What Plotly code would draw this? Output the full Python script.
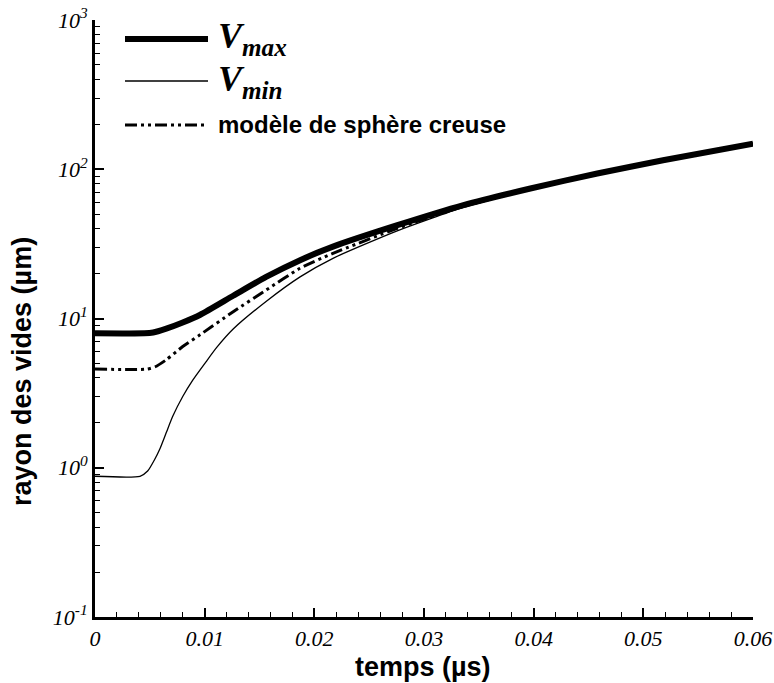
import plotly.graph_objects as go

# temps (µs) and rayon des vides (µm) for each curve
t_vmax = [0.0, 0.0045, 0.0053, 0.0065, 0.0080, 0.0096, 0.0126, 0.0156, 0.0187, 0.0217,
          0.0275, 0.0336, 0.0397, 0.0458, 0.0518, 0.0600]
r_vmax = [7.95, 7.95, 8.05, 8.55, 9.4, 10.6, 14.2, 19.0, 24.6, 30.3,
          42.0, 57.5, 74.3, 93.6, 114.8, 148.6]

t_vmin = [0.0, 0.0041, 0.0048, 0.00545, 0.0059, 0.0065, 0.0071, 0.0080, 0.0089, 0.0101,
          0.0111, 0.0126, 0.0156, 0.0187, 0.0217, 0.0275, 0.0336, 0.0397, 0.0458,
          0.0518, 0.0600]
r_vmin = [0.877, 0.877, 0.95, 1.14, 1.33, 1.72, 2.22, 3.0, 3.85, 5.1,
          6.4, 8.5, 13.0, 19.0, 25.3, 38.5, 55.5, 73.0, 92.5,
          114.0, 148.0]

t_sphere = [0.0, 0.0047, 0.0055, 0.0065, 0.0080, 0.0096, 0.0126, 0.0156, 0.0187, 0.0217,
            0.0275, 0.0336, 0.0397, 0.0458, 0.0518, 0.0600]
r_sphere = [4.58, 4.58, 4.75, 5.29, 6.49, 7.8, 11.1, 15.5, 21.7, 27.3,
            40.0, 56.5, 73.8, 93.0, 114.5, 148.5]

x_ticks = [0, 0.01, 0.02, 0.03, 0.04, 0.05, 0.06]
x_ticklabels = ["0", "0.01", "0.02", "0.03", "0.04", "0.05", "0.06"]
y_ticks = [0.1, 1, 10, 100, 1000]
y_ticklabels = ["10<sup>-1</sup>", "10<sup>0</sup>", "10<sup>1</sup>", "10<sup>2</sup>", "10<sup>3</sup>"]
y_minor = [m * d for d in (0.1, 1, 10, 100) for m in range(2, 10)]

DASHDOT2 = "12px,4px,3px,4px,3px,4px"
SMOOTH = dict(shape="spline", smoothing=0.6)

fig = go.Figure()
fig.add_trace(go.Scatter(x=t_vmax, y=r_vmax, mode="lines", name="Vmax",
                         line=dict(color="black", width=6, **SMOOTH), showlegend=False))
fig.add_trace(go.Scatter(x=t_vmin, y=r_vmin, mode="lines", name="Vmin",
                         line=dict(color="black", width=1.3, **SMOOTH), showlegend=False))
fig.add_trace(go.Scatter(x=t_sphere, y=r_sphere, mode="lines", name="modèle de sphère creuse",
                         line=dict(color="black", width=3, dash=DASHDOT2, **SMOOTH),
                         showlegend=False))

W, H = 774, 683
ML, MR, MT, MB = 95, 21, 20, 66
pw, ph = W - ML - MR, H - MT - MB


def px(xp):
    return (xp - ML) / pw


def py(yp):
    return (H - MB - yp) / ph


# legend: sample lines + labels
legend_items = [
    (39, 6, "solid", "<b><i>V<sub>max</sub></i></b>", "Liberation Serif", 36),
    (81, 1.3, "solid", "<b><i>V<sub>min</sub></i></b>", "Liberation Serif", 36),
    (125, 3, DASHDOT2, "<b>modèle de sphère creuse</b>", "Liberation Sans", 24),
]
for yp, w, dash, label, fam, size in legend_items:
    fig.add_shape(type="line", xref="paper", yref="paper",
                  x0=px(125), x1=px(208), y0=py(yp), y1=py(yp),
                  line=dict(color="black", width=w, dash=dash))
    fig.add_annotation(xref="paper", yref="paper", x=px(216), y=py(yp),
                       xanchor="left", yanchor="middle", showarrow=False,
                       text=label, font=dict(family=fam, size=size, color="black"))

titlefont = dict(family="Liberation Sans", size=27, color="black")
fig.add_annotation(xref="paper", yref="paper", x=px(423), y=py(667),
                   xanchor="center", yanchor="middle", showarrow=False, borderpad=0,
                   text="<b>temps (µs)</b>", font=titlefont)
fig.add_annotation(xref="paper", yref="paper", x=px(22), y=py(372),
                   xanchor="center", yanchor="middle", showarrow=False, textangle=-90,
                   borderpad=0, text="<b>rayon des vides (µm)</b>", font=titlefont)

tickfont = dict(family="Liberation Serif", size=22, color="black", style="italic")

fig.update_layout(
    width=W, height=H,
    margin=dict(l=ML, r=MR, t=MT, b=MB),
    paper_bgcolor="white", plot_bgcolor="white",
    xaxis=dict(range=[0, 0.06], tickmode="array", tickvals=x_ticks, ticktext=x_ticklabels,
               automargin=False,
               showline=True, linewidth=3, linecolor="black", mirror=False,
               ticks="inside", ticklen=9, tickwidth=2, tickcolor="black",
               minor=dict(ticks="inside", ticklen=5, tickwidth=1, tickcolor="black", dtick=0.002,
                          showgrid=False),
               showgrid=False, zeroline=False, tickfont=tickfont, ticklabelstandoff=0),
    yaxis=dict(type="log", range=[-1, 3], tickmode="array", tickvals=y_ticks, ticktext=y_ticklabels,
               automargin=False,
               showline=True, linewidth=3, linecolor="black", mirror=False,
               ticks="inside", ticklen=9, tickwidth=2, tickcolor="black",
               minor=dict(ticks="inside", ticklen=5, tickwidth=1, tickcolor="black",
                          tickmode="array", tickvals=y_minor, showgrid=False),
               showgrid=False, zeroline=False, tickfont=tickfont),
)

fig.write_html("out.html")
